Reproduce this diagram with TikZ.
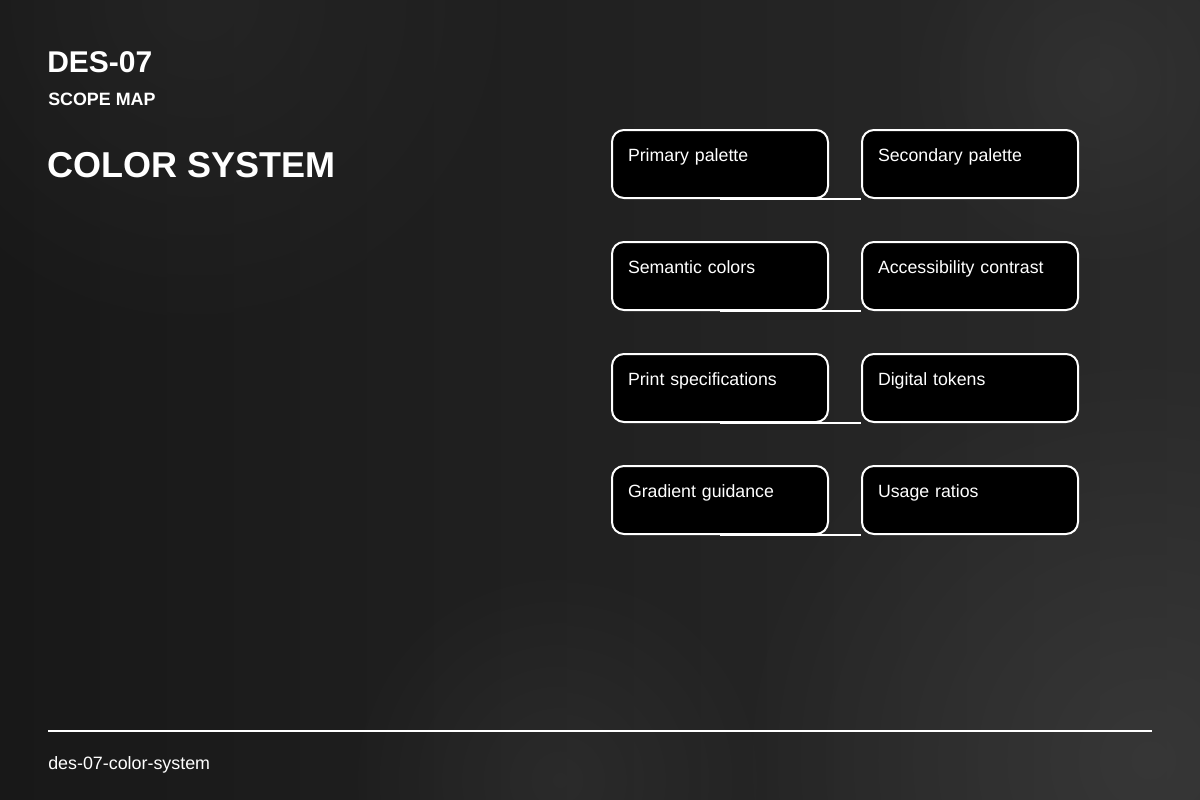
\documentclass[tikz,border=0pt]{standalone}
\usepackage{fontspec}
\setmainfont{Liberation Sans}
\usetikzlibrary{fadings}
\tikzfading[name=softglow, inner color=transparent!0, outer color=transparent!100]
\definecolor{bgA}{HTML}{181818}
\definecolor{bgM}{HTML}{212121}
\definecolor{bgB}{HTML}{2A2A2A}
\definecolor{bgC}{HTML}{3A3A3A}
\begin{document}
\begin{tikzpicture}[x=0.75pt,y=-0.75pt,
  card/.style={draw=white, line width=1.5pt, fill=black, rounded corners=9pt,
    anchor=north west, outer sep=0.75pt, minimum width=162pt, minimum height=51pt,
    inner xsep=12pt, inner ysep=0pt, text width=138pt, align=left,
    text height=23.25pt, text depth=27.75pt, text=white, font=\fontsize{13.3}{15}\selectfont},
  link/.style={draw=white, line width=1.5pt},
  lbl/.style={anchor=base west, text=white, inner sep=0pt}]
% background
\shade[left color=bgA, right color=bgB, middle color=bgM, shading angle=90] (0,0) rectangle (1200,800);
\begin{scope}
\clip (0,0) rectangle (1200,800);
\fill[bgC, path fading=softglow, opacity=0.8] (1150,760) circle [radius=420];
\fill[bgB, path fading=softglow, opacity=0.6] (200,0) circle [radius=350];
\fill[bgC, path fading=softglow, opacity=0.5] (1100,80) circle [radius=200];
\fill[bgC, path fading=softglow, opacity=0.4] (560,780) circle [radius=220];
\end{scope}
\useasboundingbox (0,0) rectangle (1200,800);
% titles
\node[lbl, font=\bfseries\fontsize{22.5}{26}\selectfont] (code) at (47,72) {DES-07};
\node[lbl, font=\bfseries\fontsize{13.4}{15}\selectfont] (sub) at (48,105) {SCOPE MAP};
\node[lbl, font=\bfseries\fontsize{27}{31}\selectfont] (title) at (47,177) {COLOR SYSTEM};
% cards
\node[card] (a1) at (611,129) {Primary palette};
\node[card] (b1) at (861,129) {Secondary palette};
\node[card] (a2) at (611,241) {Semantic colors};
\node[card] (b2) at (861,241) {Accessibility contrast};
\node[card] (a3) at (611,353) {Print specifications};
\node[card] (b3) at (861,353) {Digital tokens};
\node[card] (a4) at (611,465) {Gradient guidance};
\node[card] (b4) at (861,465) {Usage ratios};
% connectors
\foreach \i in {1,2,3,4}{
  \draw[link] (a\i.south) -- (a\i.south -| b\i.west);
}
% footer
\coordinate (fl) at (48,731);
\coordinate (fr) at (1152,731);
\draw[link] (fl) -- (fr);
\node[lbl, font=\fontsize{13.4}{15}\selectfont] (foot) at (48,769) {des-07-color-system};
\end{tikzpicture}
\end{document}
